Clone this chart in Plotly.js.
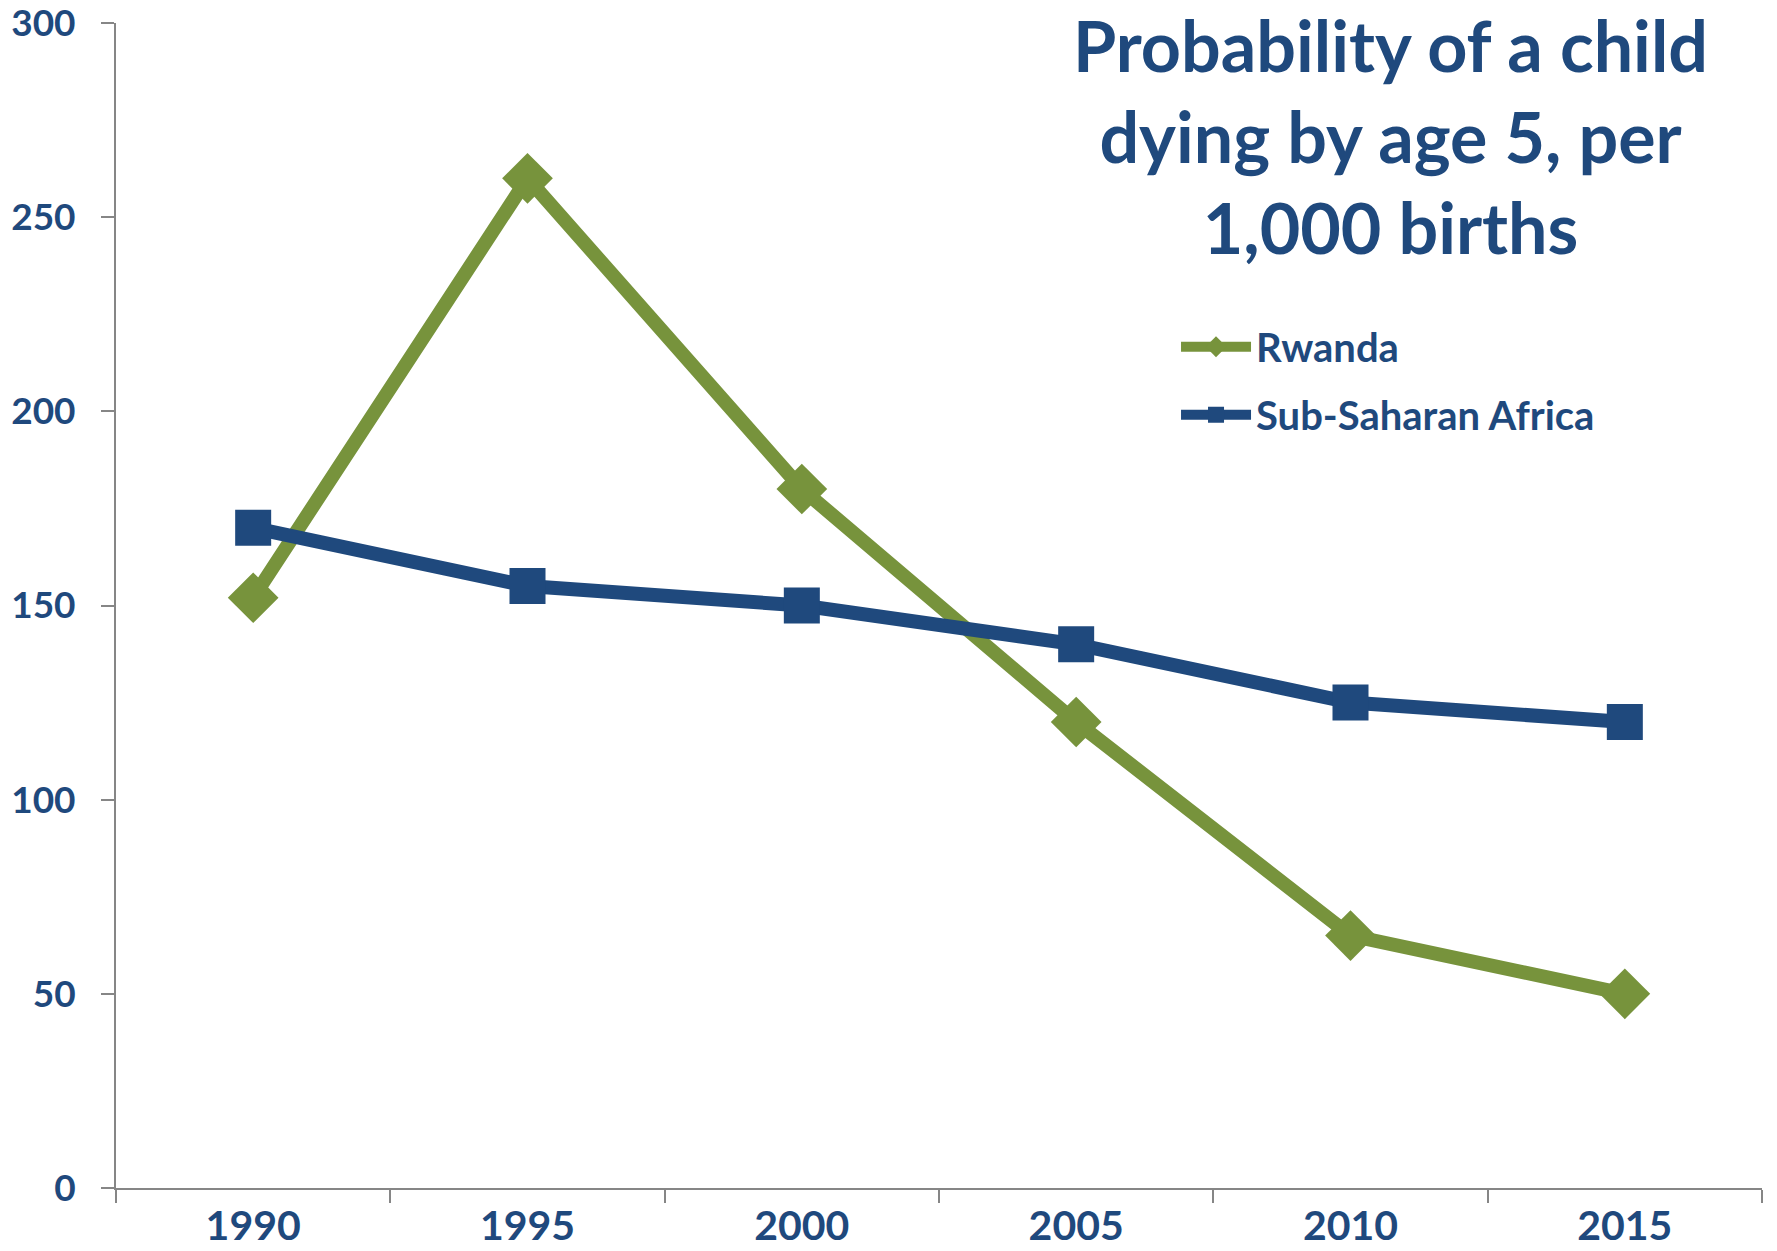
<!DOCTYPE html>
<html>
<head>
<meta charset="utf-8">
<script src="https://cdn.plot.ly/plotly-3.0.1.min.js"></script>
<style>html,body{margin:0;padding:0;background:#fff;}#chart{width:1777px;height:1251px;}</style>
</head>
<body>
<div id="chart"></div>
<script>
const years = ["1990", "1995", "2000", "2005", "2010", "2015"];
const rwanda = [152, 260, 180, 120, 65, 50];
const ssa = [170, 155, 150, 140, 125, 120];
const seriesNames = ["Rwanda", "Sub-Saharan Africa"];
const titleText = "Probability of a child<br>dying by age 5, per<br>1,000 births";

const textColor = "#1F497D";
const green = "#77933C";
const blue = "#1F497D";
const fontFam = "Lato, 'Open Sans', sans-serif";

const traces = [
  {
    x: years, y: rwanda, name: seriesNames[0], type: "scatter", mode: "lines+markers",
    legendgroup: "a",
    line: {color: green, width: 14},
    marker: {symbol: "diamond", size: 39, color: green, line: {width: 0}}
  },
  {
    x: years, y: ssa, name: seriesNames[1], type: "scatter", mode: "lines+markers",
    legendgroup: "b",
    line: {color: blue, width: 14},
    marker: {symbol: "square", size: 36, color: blue, line: {width: 0}}
  }
];

const layout = {
  width: 1777, height: 1251,
  margin: {l: 116, r: 15, t: 23, b: 63},
  paper_bgcolor: "#ffffff", plot_bgcolor: "#ffffff",
  font: {family: fontFam, color: textColor, size: 38, weight: 700},
  showlegend: true,
  legend: {
    x: 0.644, y: 0.75, xanchor: "left", yanchor: "top",
    itemwidth: 70,
    font: {family: fontFam, size: 40, color: textColor, weight: 700},
    bgcolor: "rgba(0,0,0,0)", tracegroupgap: 13, traceorder: "grouped"
  },
  xaxis: {
    type: "category", range: [-0.5, 5.5],
    showline: true, linecolor: "#868686", linewidth: 2,
    ticks: "outside", tickson: "boundaries", ticklen: 13, tickwidth: 2, tickcolor: "#868686",
    showgrid: false, zeroline: false,
    tickfont: {family: fontFam, size: 41, color: textColor, weight: 700},
    ticklabelstandoff: 1
  },
  yaxis: {
    range: [0, 300], dtick: 50, tick0: 0,
    showline: true, linecolor: "#868686", linewidth: 2,
    ticks: "outside", ticklen: 13, tickwidth: 2, tickcolor: "#868686",
    showgrid: false, zeroline: false,
    ticklabeloverflow: "allow",
    tickfont: {family: fontFam, size: 37, color: textColor, weight: 700},
    ticklabelstandoff: 18
  },
  annotations: [{
    text: titleText, xref: "paper", yref: "paper",
    x: 0.7746, y: 1.019, xanchor: "center", yanchor: "top",
    showarrow: false, align: "center",
    font: {family: fontFam, size: 70, color: textColor, weight: 700}
  }]
};

Plotly.newPlot("chart", traces, layout, {displayModeBar: false, staticPlot: true});
</script>
</body>
</html>
